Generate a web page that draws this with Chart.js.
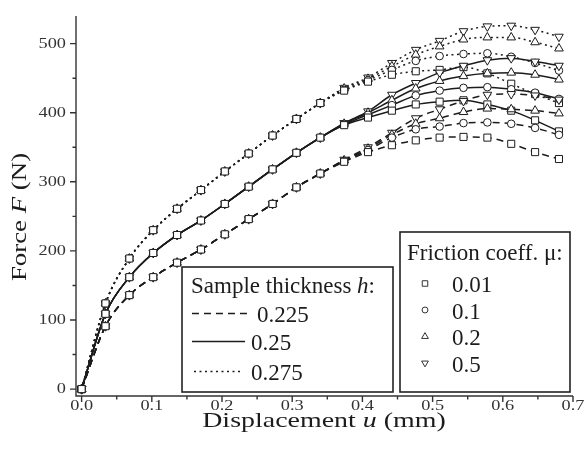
<!DOCTYPE html>
<html>
<head>
<meta charset="utf-8">
<script src="https://cdn.jsdelivr.net/npm/chart.js@4"></script>
<style>
  html, body { margin: 0; padding: 0; background: #fff; }
  #c { display: block; }
</style>
</head>
<body>
<canvas id="c" width="588" height="452"></canvas>
<script>
// Force vs displacement, three sample thicknesses x four friction coefficients
const displacement = [0, 0.034, 0.068, 0.102, 0.136, 0.17, 0.204, 0.238, 0.272, 0.306, 0.34,
  0.374, 0.408, 0.442, 0.476, 0.51, 0.544, 0.578, 0.612, 0.646, 0.68];

// h = 0.225 (dashed)
const h225_mu001 = [0, 91, 136, 162, 183, 202, 224, 246, 268, 292, 312, 329, 343, 353, 360, 364, 365, 364, 355, 343, 333];
const h225_mu01  = [0, 91, 136, 162, 183, 202, 224, 246, 268, 292, 312, 330, 346, 364, 376, 380, 385, 386, 384, 378, 368];
const h225_mu02  = [0, 91, 136, 162, 183, 202, 224, 246, 268, 292, 312, 331, 348, 368, 384, 392, 401, 406, 405, 403, 399];
const h225_mu05  = [0, 91, 136, 162, 183, 202, 224, 246, 268, 292, 312, 332, 350, 371, 392, 405, 417, 426, 427, 425, 419];
// h = 0.25 (solid)
const h25_mu001 = [0, 109, 162, 197, 223, 244, 268, 293, 318, 342, 364, 382, 393, 403, 412, 416, 418, 412, 403, 389, 373];
const h25_mu01  = [0, 109, 162, 197, 223, 244, 268, 293, 318, 342, 364, 383, 397, 411, 425, 432, 436, 437, 434, 429, 420];
const h25_mu02  = [0, 109, 162, 197, 223, 244, 268, 293, 318, 342, 364, 384, 400, 418, 435, 446, 453, 457, 458, 455, 448];
const h25_mu05  = [0, 109, 162, 197, 223, 244, 268, 293, 318, 342, 364, 385, 402, 426, 443, 458, 468, 476, 479, 474, 468];
// h = 0.275 (dotted)
const h275_mu001 = [0, 124, 189, 230, 261, 288, 315, 341, 367, 391, 414, 432, 445, 455, 460, 462, 466, 457, 442, 427, 414];
const h275_mu01  = [0, 124, 189, 230, 261, 288, 315, 341, 367, 391, 414, 433, 447, 462, 475, 482, 485, 486, 481, 472, 461];
const h275_mu02  = [0, 124, 189, 230, 261, 288, 315, 341, 367, 391, 414, 435, 449, 467, 484, 496, 506, 509, 509, 502, 493];
const h275_mu05  = [0, 124, 189, 230, 261, 288, 315, 341, 367, 391, 414, 436, 451, 472, 491, 504, 518, 525, 526, 520, 510];

const thicknessLabels = ['0.225', '0.25', '0.275'];
const frictionLabels = ['0.01', '0.1', '0.2', '0.5'];
const xTickValues = [0, 0.1, 0.2, 0.3, 0.4, 0.5, 0.6, 0.7];
const xTickLabels = ['0.0', '0.1', '0.2', '0.3', '0.4', '0.5', '0.6', '0.7'];
const yTickValues = [0, 100, 200, 300, 400, 500];

const series = [
  [h225_mu001, h225_mu01, h225_mu02, h225_mu05],
  [h25_mu001, h25_mu01, h25_mu02, h25_mu05],
  [h275_mu001, h275_mu01, h275_mu02, h275_mu05]
];

const INK = '#1c1c1c';
const SERIF = '"Liberation Serif", "DejaVu Serif", serif';
const lineDash = [[7, 5], [], [2, 3.5]];
const markers = [
  { style: 'rect', rot: 0, r: 5 },
  { style: 'circle', rot: 0, r: 3.8 },
  { style: 'triangle', rot: 0, r: 5 },
  { style: 'triangle', rot: 180, r: 5 }
];

const datasets = [];
series.forEach((group, t) => {
  group.forEach((vals, f) => {
    datasets.push({
      label: 'h=' + thicknessLabels[t] + ' mu=' + frictionLabels[f],
      data: vals.map((v, i) => ({ x: displacement[i], y: v })),
      borderColor: INK,
      borderWidth: 1.5,
      borderDash: lineDash[t],
      cubicInterpolationMode: 'monotone',
      pointStyle: markers[f].style,
      pointRotation: markers[f].rot,
      pointRadius: markers[f].r,
      pointBorderWidth: 1,
      pointBorderColor: INK,
      pointBackgroundColor: '#fff'
    });
  });
});

function drawMarker(ctx, style, rot, x, y, r) {
  ctx.beginPath();
  if (style === 'rect') {
    const s = r * Math.SQRT1_2;
    ctx.rect(x - s, y - s, 2 * s, 2 * s);
  } else if (style === 'circle') {
    ctx.arc(x, y, r, 0, Math.PI * 2);
  } else {
    let a = rot * Math.PI / 180;
    ctx.moveTo(x + Math.sin(a) * r, y - Math.cos(a) * r);
    for (let k = 0; k < 2; k++) {
      a += Math.PI * 2 / 3;
      ctx.lineTo(x + Math.sin(a) * r, y - Math.cos(a) * r);
    }
    ctx.closePath();
  }
  ctx.fillStyle = '#fff';
  ctx.fill();
  ctx.stroke();
}

function runsWidth(ctx, runs, size) {
  let w = 0;
  runs.forEach(([txt, it]) => {
    ctx.font = (it ? 'italic ' : '') + size + 'px ' + SERIF;
    w += ctx.measureText(txt).width;
  });
  return w;
}

// draws text pieces (some italic), optionally stretched horizontally by sx
function drawRuns(ctx, runs, x, y, size, sx = 1) {
  ctx.save();
  ctx.translate(x, y);
  ctx.scale(sx, 1);
  let cx = 0;
  runs.forEach(([txt, it]) => {
    ctx.font = (it ? 'italic ' : '') + size + 'px ' + SERIF;
    ctx.fillText(txt, cx, 0);
    cx += ctx.measureText(txt).width;
  });
  ctx.restore();
}

const decor = {
  id: 'decor',
  afterDraw(chart) {
    const { ctx, chartArea: a, scales: { x, y } } = chart;
    ctx.save();

    // axes
    ctx.strokeStyle = '#333';
    ctx.lineWidth = 1.4;
    ctx.setLineDash([]);
    ctx.beginPath();
    ctx.moveTo(a.left, a.top);
    ctx.lineTo(a.left, a.bottom);
    ctx.lineTo(a.right, a.bottom);
    // ticks, major and minor
    yTickValues.forEach(v => {
      const p = y.getPixelForValue(v);
      ctx.moveTo(a.left, p); ctx.lineTo(a.left - 6, p);
      const m = y.getPixelForValue(v + 50);
      if (v + 50 < y.max) { ctx.moveTo(a.left, m); ctx.lineTo(a.left - 3.5, m); }
    });
    xTickValues.forEach(v => {
      const p = x.getPixelForValue(v);
      ctx.moveTo(p, a.bottom); ctx.lineTo(p, a.bottom + 6);
      if (v + 0.05 < x.max) {
        const m = x.getPixelForValue(v + 0.05);
        ctx.moveTo(m, a.bottom); ctx.lineTo(m, a.bottom + 3.5);
      }
    });
    ctx.stroke();

    // tick labels
    const TS = 15, TX = 1.22;
    ctx.fillStyle = '#333';
    ctx.textBaseline = 'middle';
    ctx.textAlign = 'left';
    yTickValues.forEach(v => {
      const s = String(v);
      const w = runsWidth(ctx, [[s, false]], TS) * TX;
      drawRuns(ctx, [[s, false]], a.left - 10 - w, y.getPixelForValue(v), TS, TX);
    });
    xTickValues.forEach((v, i) => {
      const s = xTickLabels[i];
      const w = runsWidth(ctx, [[s, false]], TS) * TX;
      drawRuns(ctx, [[s, false]], x.getPixelForValue(v) - w / 2, a.bottom + 10, TS, TX);
    });

    // axis titles
    const AS = 22, AX = 1.27;
    ctx.fillStyle = INK;
    ctx.textBaseline = 'alphabetic';
    const xt = [['Displacement ', false], ['u', true], [' (mm)', false]];
    drawRuns(ctx, xt, 324 - runsWidth(ctx, xt, AS) * AX / 2, 427, AS, AX);
    const yt = [['Force ', false], ['F', true], [' (N)', false]];
    ctx.save();
    ctx.translate(26, 217);
    ctx.rotate(-Math.PI / 2);
    drawRuns(ctx, yt, -runsWidth(ctx, yt, AS) * 1.22 / 2, 0, AS, 1.22);
    ctx.restore();

    // legend: sample thickness
    ctx.fillStyle = '#fff';
    ctx.fillRect(182, 267, 211, 125);
    ctx.strokeStyle = '#222';
    ctx.lineWidth = 1.6;
    ctx.strokeRect(182, 267, 211, 125);
    ctx.fillStyle = INK;
    drawRuns(ctx, [['Sample thickness ', false], ['h', true], [':', false]], 191, 293, 23);
    const rowsY = [322, 350, 380];
    const lineEnds = [247, 245, 241];
    const textX = [257, 251, 251];
    ctx.lineWidth = 1.6;
    ctx.strokeStyle = INK;
    rowsY.forEach((ry, t) => {
      ctx.setLineDash(lineDash[t]);
      ctx.beginPath();
      ctx.moveTo(t === 2 ? 194 : 192, ry - 8.5);
      ctx.lineTo(lineEnds[t], ry - 8.5);
      ctx.stroke();
      ctx.setLineDash([]);
      drawRuns(ctx, [[thicknessLabels[t], false]], textX[t], ry, 23);
    });

    // legend: friction coefficient
    ctx.fillStyle = '#fff';
    ctx.fillRect(400, 232, 170, 160);
    ctx.strokeStyle = '#222';
    ctx.lineWidth = 1.6;
    ctx.strokeRect(400, 232, 170, 160);
    ctx.fillStyle = INK;
    drawRuns(ctx, [['Friction coeff. μ:', false]], 407, 260, 23);
    const fy = [292, 318.5, 345, 371.5];
    ctx.lineWidth = 1;
    fy.forEach((ry, f) => {
      ctx.strokeStyle = '#333';
      drawMarker(ctx, markers[f].style, markers[f].rot, 425, ry - 8.5, markers[f].r * 0.78);
      ctx.fillStyle = INK;
      drawRuns(ctx, [[frictionLabels[f], false]], 452, ry, 23);
    });

    ctx.restore();
  }
};

new Chart(document.getElementById('c'), {
  type: 'line',
  data: { datasets: datasets },
  options: {
    responsive: false,
    animation: false,
    events: [],
    layout: { padding: { top: 16, right: 15, left: 0, bottom: 0 } },
    plugins: { legend: { display: false }, tooltip: { enabled: false } },
    scales: {
      x: {
        type: 'linear', min: -0.008, max: 0.7,
        ticks: { display: false },
        grid: { display: false },
        border: { display: false },
        afterFit: s => { s.height = 56; }
      },
      y: {
        type: 'linear', min: -10, max: 540,
        ticks: { display: false },
        grid: { display: false },
        border: { display: false },
        afterFit: s => { s.width = 76; }
      }
    }
  },
  plugins: [decor]
});
</script>
</body>
</html>
